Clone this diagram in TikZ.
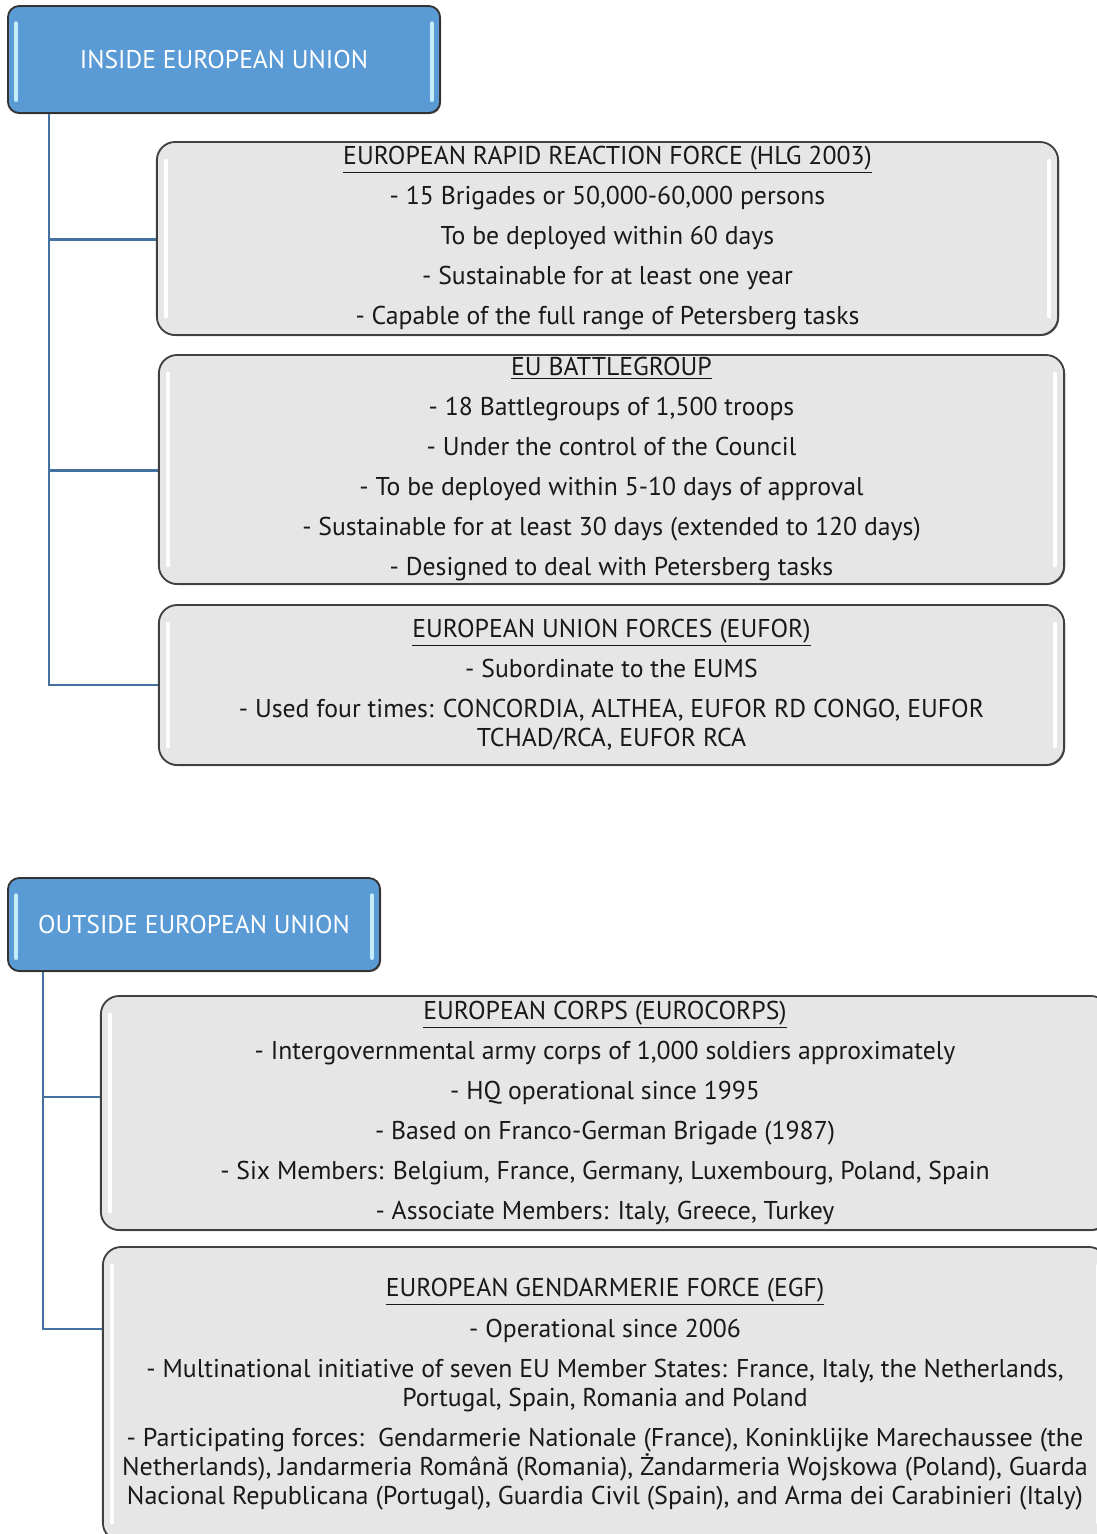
\documentclass[tikz,border=0pt]{standalone}
\usepackage{fontspec}
\setmainfont{PT Sans}
\newfontfamily\narrowfont[FakeStretch=1.015]{PT Sans}
\usetikzlibrary{positioning,shadows}

\definecolor{headblue}{RGB}{91,155,213}
\definecolor{headshine}{RGB}{196,236,250}
\definecolor{boxgray}{RGB}{230,230,230}
\definecolor{trunkblue}{RGB}{68,114,160}
\definecolor{inkgray}{RGB}{25,25,25}

\begin{document}
\begin{tikzpicture}[x=0.025cm, y=-0.025cm,
    head node/.style={rectangle, rounded corners=8pt, draw=black!80, line width=1.3pt,
      fill=headblue, text=white, font=\fontsize{18.2}{20}\selectfont,
      drop shadow={shadow xshift=0.7pt, shadow yshift=-0.7pt, fill=black!60, opacity=1}},
    group node/.style={rectangle, rounded corners=13pt, draw=black!75, line width=1.3pt,
      fill=boxgray, text=inkgray, align=center, inner sep=0pt,
      font=\fontsize{18.3}{20.6}\selectfont,
      drop shadow={shadow xshift=0.7pt, shadow yshift=-0.7pt, fill=black!60, opacity=1}},
    link/.style={draw=trunkblue, line width=1.8pt},
    shine/.style={draw=white, line width=3pt, line cap=round},
    blueshine/.style={draw=headshine, line width=3pt, line cap=round}]

  \useasboundingbox (0,0) rectangle (1097,1534);
  \clip (0,0) rectangle (1097,1534);

  % inside the EU
  \node[head node, minimum width=10.8cm, minimum height=2.675cm] (inside) at (224,59.5)
    {INSIDE EUROPEAN UNION};

  \node[group node, minimum width=22.525cm, minimum height=4.825cm] (rrf) at (607.5,238.5)
    {\underline{EUROPEAN RAPID REACTION FORCE (HLG 2003)}\\[7.85pt]
     - 15 Brigades or 50,000-60,000 persons\\[7.85pt]
     To be deployed within 60 days\\[7.85pt]
     - Sustainable for at least one year\\[7.85pt]
     - Capable of the full range of Petersberg tasks};

  \node[group node, minimum width=22.625cm, minimum height=5.725cm] (battle) at (611.5,469.5)
    {\underline{EU BATTLEGROUP}\\[7.85pt]
     - 18 Battlegroups of 1,500 troops\\[7.85pt]
     - Under the control of the Council\\[7.85pt]
     - To be deployed within 5-10 days of approval\\[7.85pt]
     - Sustainable for at least 30 days (extended to 120 days)\\[7.85pt]
     - Designed to deal with Petersberg tasks};

  \node[group node, minimum width=22.625cm, minimum height=4cm] (eufor) at (611.5,685)
    {\underline{EUROPEAN UNION FORCES (EUFOR)}\\[7.85pt]
     - Subordinate to the EUMS\\[7.85pt]
     - Used four times: CONCORDIA, ALTHEA, EUFOR RD CONGO, EUFOR\\
     TCHAD/RCA, EUFOR RCA};

  % outside the EU
  \node[head node, minimum width=9.3cm, minimum height=2.325cm] (outside) at (194,924.5)
    {OUTSIDE EUROPEAN UNION};

  \node[group node, minimum width=25.2cm, minimum height=5.85cm] (corps) at (605,1113)
    {\underline{EUROPEAN CORPS (EUROCORPS)}\\[7.85pt]
     - Intergovernmental army corps of 1,000 soldiers approximately\\[7.85pt]
     - HQ operational since 1995\\[7.85pt]
     - Based on Franco-German Brigade (1987)\\[7.85pt]
     - Six Members: Belgium, France, Germany, Luxembourg, Poland, Spain\\[7.85pt]
     - Associate Members: Italy, Greece, Turkey};

  \node[group node, minimum width=25.1cm, minimum height=7.35cm] (egf) at (605,1394)
    {\underline{EUROPEAN GENDARMERIE FORCE (EGF)}\\[8.5pt]
     - Operational since 2006\\[7.85pt]
     - Multinational initiative of seven EU Member States: France, Italy, the Netherlands,\\
     Portugal, Spain, Romania and Poland\\[7.85pt]
     {\narrowfont - Participating forces:\ \ Gendarmerie Nationale (France), Koninklijke Marechaussee (the}\\
     {\narrowfont Netherlands), Jandarmeria Română (Romania), Żandarmeria Wojskowa (Poland), Guarda}\\
     {\narrowfont Nacional Republicana (Portugal), Guardia Civil (Spain), and Arma dei Carabinieri (Italy)}};

  % highlights
  \foreach \n in {rrf,battle,eufor,corps,egf} {
    \draw[shine] ([xshift=7pt,yshift=-14pt]\n.north west) -- ([xshift=7pt,yshift=14pt]\n.south west);
    \draw[shine] ([xshift=-7pt,yshift=-14pt]\n.north east) -- ([xshift=-7pt,yshift=14pt]\n.south east);
  }
  \foreach \n in {inside,outside} {
    \draw[blueshine] ([xshift=6.5pt,yshift=-13pt]\n.north west) -- ([xshift=6.5pt,yshift=10pt]\n.south west);
    \draw[blueshine] ([xshift=-6.5pt,yshift=-13pt]\n.north east) -- ([xshift=-6.5pt,yshift=10pt]\n.south east);
  }

  % connectors
  \coordinate (intrunk) at ([xshift=1.05cm]inside.south west);
  \coordinate (outtrunk) at ([xshift=0.9cm]outside.south west);
  \draw[link] (intrunk) |- ([yshift=-0.025cm]rrf.west);
  \draw[link] (intrunk) |- ([yshift=-0.025cm]battle.west);
  \draw[link] (intrunk) |- (eufor.west);
  \draw[link] (outtrunk) |- ([yshift=0.4cm]corps.west);
  \draw[link] (outtrunk) |- ([yshift=1.625cm]egf.west);
\end{tikzpicture}
\end{document}
